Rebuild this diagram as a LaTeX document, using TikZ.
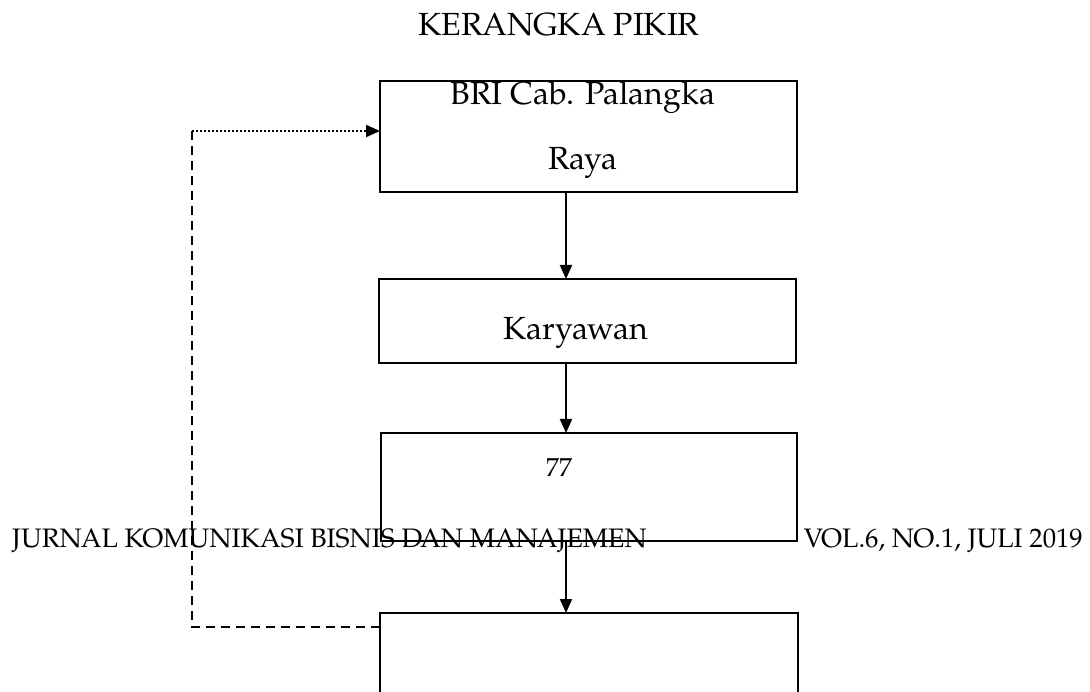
\documentclass[tikz,border=0pt]{standalone}
\usepackage{fontspec}
\setmainfont{TeX Gyre Pagella}
\usetikzlibrary{arrows.meta}
\begin{document}
\begin{tikzpicture}[x=1pt,y=-1pt,
  box/.style={draw=black,line width=1.8pt,rectangle,inner sep=0pt,outer sep=0pt},
  lbl/.style={anchor=base,inner sep=0pt,font=\fontsize{32}{38}\selectfont},
  foot/.style={inner sep=0pt,font=\fontsize{26.7}{32}\selectfont},
  flow/.style={line width=2pt,-{Triangle[length=14pt,width=12pt]}},
  back/.style={line width=2.2pt,dash pattern=on 9pt off 6pt},
  backdot/.style={line width=2pt,dash pattern=on 2pt off 2pt,-{Triangle[length=14pt,width=12pt]}}]
\useasboundingbox (0,0) rectangle (1090,692);
\node[anchor=base,inner sep=0pt,font=\fontsize{32}{38}\selectfont] (title) at (559,36) {KERANGKA PIKIR};
\node[box,minimum width=417pt,minimum height=111pt] (b1) at (588.5,136.5) {};
\node[box,minimum width=417pt,minimum height=84pt] (b2) at (587.5,321) {};
\node[box,minimum width=416pt,minimum height=108pt] (b3) at (589,487) {};
\node[box,minimum width=418pt,minimum height=120pt] (b4) at (589,673) {};
\node[lbl] (t1a) at (583,105) {BRI Cab. Palangka};
\node[lbl] (t1b) at (583,170) {Raya};
\node[lbl] (t2) at (575.5,340) {Karyawan};
\node[anchor=base,inner sep=0pt,font=\fontsize{26}{31}\selectfont] (t3) at (559,476) {77};
\node[foot,anchor=base west] (f1) at (12,547) {JURNAL KOMUNIKASI BISNIS DAN MANAJEMEN};
\node[foot,anchor=base east] (f2) at (1083,547) {VOL.6, NO.1, JULI 2019};
\coordinate (a1) at (566,192);
\coordinate (a2) at (566,279);
\coordinate (a3) at (566,363);
\coordinate (a4) at (566,433);
\coordinate (a5) at (566,541);
\coordinate (a6) at (566,613);
\draw[flow] (a1) -- (a2);
\draw[flow] (a3) -- (a4);
\draw[flow] (a5) -- (a6);
\coordinate (d0) at (380,627);
\coordinate (d1) at (192,627);
\coordinate (d2) at (192,131);
\coordinate (d3) at (380,131);
\draw[back] (d0) -- (d1) -- (d2);
\draw[backdot] (d2) -- (d3);
\end{tikzpicture}
\end{document}
